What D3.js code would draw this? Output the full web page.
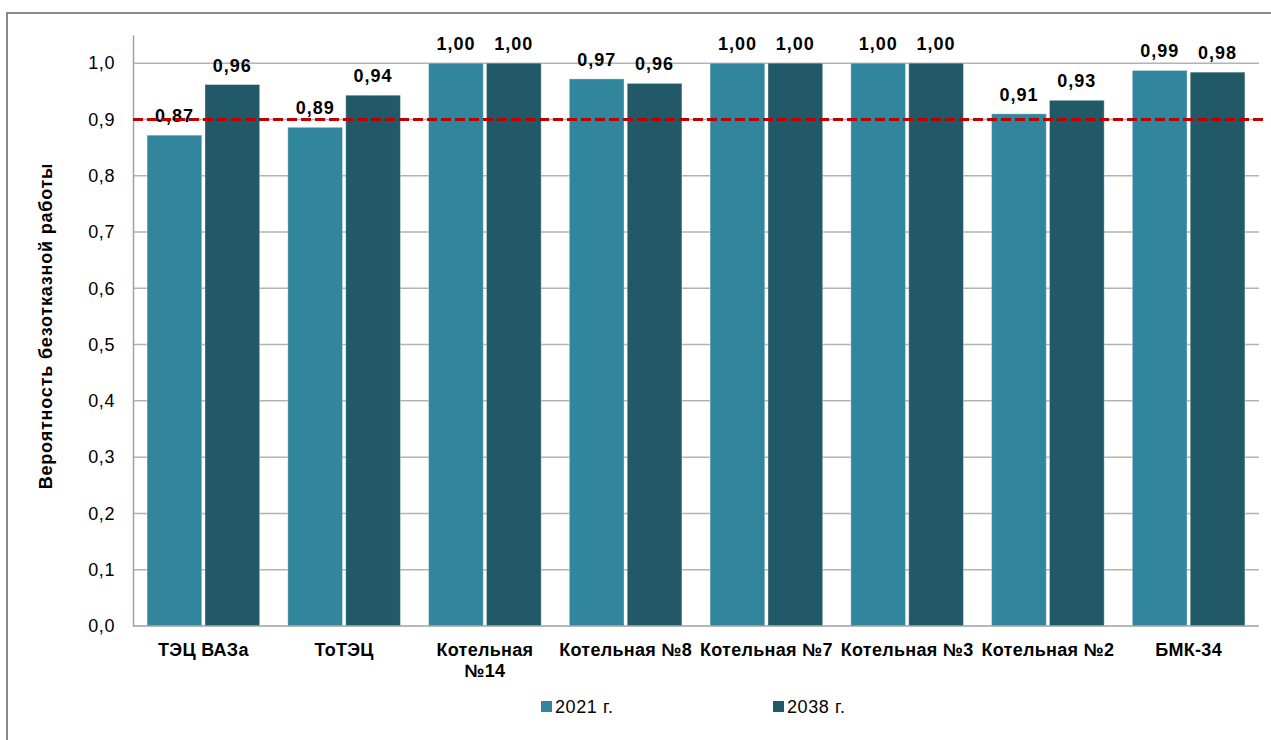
<!DOCTYPE html>
<html>
<head>
<meta charset="utf-8">
<script src="https://cdn.jsdelivr.net/npm/d3@7"></script>
<style>
  html, body { margin: 0; padding: 0; background: #fff; }
  svg { display: block; font-family: "Liberation Sans", Arial, sans-serif; }
</style>
</head>
<body>
<svg id="chart" width="1271" height="740"></svg>
<script>
const categories = ["ТЭЦ ВАЗа", "ТоТЭЦ", "Котельная\n№14", "Котельная №8", "Котельная №7", "Котельная №3", "Котельная №2", "БМК-34"];
const seriesNames = ["2021 г.", "2038 г."];
const values2021 = [0.872, 0.886, 1.00, 0.972, 1.00, 1.00, 0.910, 0.987];
const values2038 = [0.962, 0.943, 1.00, 0.964, 1.00, 1.00, 0.934, 0.984];
const yTicks = [0, 0.1, 0.2, 0.3, 0.4, 0.5, 0.6, 0.7, 0.8, 0.9, 1.0];
const threshold = 0.9;
const yTitle = "Вероятность безотказной работы";

const colors = ["#31859C", "#215968"];
const svg = d3.select("#chart");
const m = { left: 133, right: 1259, top: 35, bottom: 626 };

// outer frame
svg.append("rect").attr("x", 7).attr("y", 13).attr("width", 1280).attr("height", 760)
  .attr("fill", "none").attr("stroke", "#898989").attr("stroke-width", 2);

const y = d3.scaleLinear().domain([0, 1.05]).range([m.bottom, m.top]);
const x0 = d3.scaleBand().domain(categories).range([m.left, m.right]).paddingInner(0.2).paddingOuter(0.1);
const x1 = d3.scaleBand().domain(seriesNames).range([0, x0.bandwidth()]).paddingInner(0.055);

// gridlines
svg.append("g").selectAll("line").data(yTicks.filter(d => d > 0)).join("line")
  .attr("x1", m.left).attr("x2", m.right)
  .attr("y1", d => y(d)).attr("y2", d => y(d))
  .attr("stroke", "#b3b3b3").attr("stroke-width", 1.5);

// y axis
const yAxis = d3.axisLeft(y).tickValues(yTicks).tickSize(0).tickPadding(18)
  .tickFormat(d => d3.format(".1f")(d).replace(".", ","));
const ga = svg.append("g").attr("transform", `translate(${m.left},0)`).call(yAxis);
ga.select(".domain").attr("stroke", "#a0a0a0").attr("stroke-width", 1.5);
ga.selectAll("text").attr("font-size", 18).attr("fill", "#000")
  .attr("font-family", "'Liberation Sans', Arial, sans-serif").attr("letter-spacing", 0.6);

// bars
const rows = categories.map((c, i) => ({ c, vals: [values2021[i], values2038[i]] }));
const groups = svg.append("g").selectAll("g").data(rows).join("g")
  .attr("transform", d => `translate(${x0(d.c)},0)`);
groups.selectAll("rect").data(d => d.vals.map((v, j) => ({ v, s: seriesNames[j], j }))).join("rect")
  .attr("x", d => x1(d.s)).attr("width", x1.bandwidth())
  .attr("y", d => y(d.v)).attr("height", d => y(0) - y(d.v))
  .attr("fill", d => colors[d.j])
  .attr("stroke", "rgba(255,255,255,0.35)").attr("stroke-width", 1);

// baseline
svg.append("line").attr("x1", m.left).attr("x2", m.right).attr("y1", y(0)).attr("y2", y(0))
  .attr("stroke", "#a0a0a0").attr("stroke-width", 1.5);

// threshold line
svg.append("line").attr("x1", m.left).attr("x2", 1267)
  .attr("y1", y(threshold)).attr("y2", y(threshold))
  .attr("stroke", "#C00000").attr("stroke-width", 3).attr("stroke-dasharray", "10,4");

// data labels
groups.selectAll("text.lbl").data(d => d.vals.map((v, j) => ({ v, s: seriesNames[j], j }))).join("text")
  .attr("class", "lbl")
  .attr("x", d => x1(d.s) + x1.bandwidth() / 2)
  .attr("y", d => y(d.v) - 13)
  .attr("text-anchor", "middle").attr("font-size", 18).attr("font-weight", "bold")
  .attr("letter-spacing", 1)
  .text(d => d3.format(".2f")(d.v).replace(".", ","));

// category labels
const cl = svg.append("g").selectAll("text").data(categories).join("text")
  .attr("x", d => x0(d) + x0.bandwidth() / 2)
  .attr("y", 656)
  .attr("text-anchor", "middle").attr("font-size", 18).attr("font-weight", "bold")
  .attr("letter-spacing", 0.3);
cl.each(function(d) {
  const lines = d.split("\n");
  const t = d3.select(this);
  lines.forEach((ln, i) => {
    t.append("tspan").attr("x", x0(d) + x0.bandwidth() / 2).attr("dy", i === 0 ? 0 : 21).text(ln);
  });
});

// y title
svg.append("text").attr("transform", "translate(52,326) rotate(-90)")
  .attr("text-anchor", "middle").attr("font-size", 18).attr("font-weight", "bold")
  .attr("letter-spacing", 0.8)
  .text(yTitle);

// legend
const legendX = [541, 773];
const lg = svg.append("g").selectAll("g").data(seriesNames).join("g")
  .attr("transform", (d, i) => `translate(${legendX[i]},701)`);
lg.append("rect").attr("width", 11).attr("height", 11).attr("fill", (d, i) => colors[i]);
lg.append("text").attr("x", 14).attr("y", 12).attr("font-size", 18).attr("letter-spacing", 0.6).text(d => d);
</script>
</body>
</html>
